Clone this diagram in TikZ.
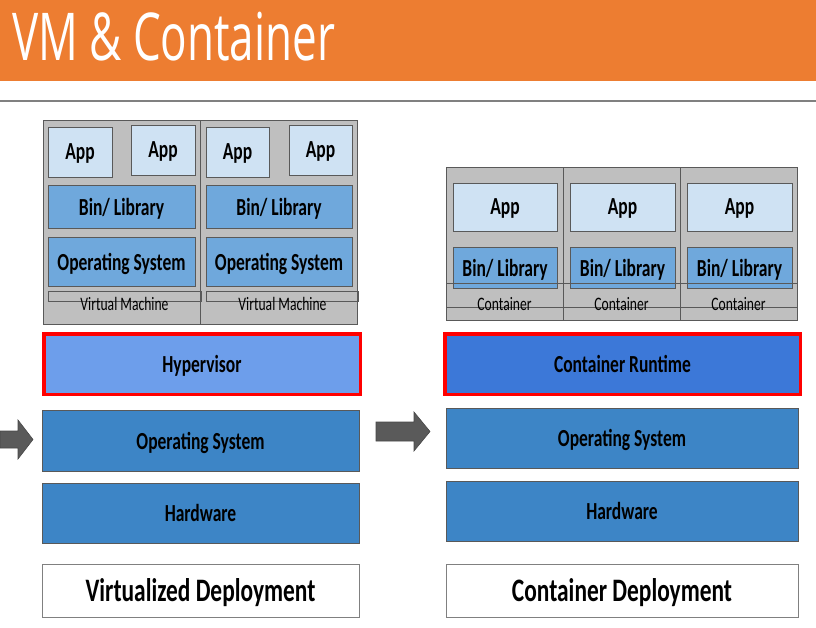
\documentclass[tikz,border=0pt]{standalone}
\usepackage{fontspec}
\setmainfont{Carlito}
\newfontfamily\titlefont{Open Sans}
\usetikzlibrary{positioning}

\definecolor{slideorange}{HTML}{ED7D31}
\definecolor{boxgray}{HTML}{BFBFBF}
\definecolor{edgegray}{HTML}{595959}
\definecolor{applight}{HTML}{CFE2F3}
\definecolor{binblue}{HTML}{6FA8DC}
\definecolor{layerblue}{HTML}{3D85C6}
\definecolor{hyperblue}{HTML}{6D9EEB}
\definecolor{runblue}{HTML}{3C78D8}
\definecolor{arrowgray}{HTML}{5A5A5A}

\newcommand{\tall}[1]{\scalebox{1}[1.4]{#1}}

\tikzstyle{vmbox} = [draw=edgegray, fill=boxgray, minimum width=158pt, minimum height=204pt, inner sep=0pt]
\tikzstyle{ctbox} = [draw=edgegray, fill=boxgray, minimum width=117pt, minimum height=153pt, inner sep=0pt]
\tikzstyle{appS} = [draw=edgegray, fill=applight, text centered, text depth=0pt, inner sep=0pt, font=\fontsize{17.5}{20}\selectfont\bfseries]
\tikzstyle{binS} = [draw=edgegray, fill=binblue, text centered, text depth=0pt, inner sep=0pt, font=\fontsize{17.5}{20}\selectfont\bfseries]
\tikzstyle{layerS} = [draw=edgegray, fill=layerblue, text centered, text depth=0pt, inner sep=0pt, font=\fontsize{17.5}{20}\selectfont\bfseries]
\tikzstyle{coreS} = [draw=red, line width=3.5pt, text centered, text depth=0pt, inner sep=0pt, minimum height=60.5pt, font=\fontsize{17.5}{20}\selectfont\bfseries]
\tikzstyle{deployS} = [draw=gray, fill=white, text centered, text depth=0pt, inner sep=0pt, minimum height=53pt, font=\fontsize{23.4}{26}\selectfont\bfseries]
\tikzstyle{stripS} = [draw=edgegray, inner sep=0pt]
\tikzstyle{labelS} = [inner sep=0pt, text depth=0pt, font=\fontsize{13.6}{15}\selectfont]
\tikzstyle{bigarrow} = [fill=arrowgray, draw=edgegray!80!black, line width=0.6pt]

\begin{document}
\begin{tikzpicture}[x=1pt, y=-1pt]
    \useasboundingbox (0,0) rectangle (816,628);

    % title bar
    \fill [slideorange] (0,0) rectangle (816,81);
    \node [anchor=base west, inner sep=0pt, text=white, font=\titlefont\fontsize{44}{50}\selectfont] (title) at (12,61) {\scalebox{1}[1.5]{VM \& Container}};
    \draw [gray, line width=1.2pt] (0,101) -- (816,101);

    % virtualized deployment
    \node [vmbox] (vm1) at (122,222) {};
    \node [vmbox, right of=vm1, node distance=157pt, minimum width=157pt] (vm2) {};
    \node [appS, minimum width=64pt, minimum height=50pt] (app1) at (80,152) {\tall{App}};
    \node [appS, minimum width=64pt, minimum height=50pt] (app2) at (163,150) {\tall{App}};
    \node [appS, minimum width=63pt, minimum height=50pt] (app3) at (237.5,152) {\tall{App}};
    \node [appS, minimum width=63pt, minimum height=50pt] (app4) at (320.5,150) {\tall{App}};
    \node [binS, minimum width=147pt, minimum height=43pt] (bin1) at (121.5,206.5) {\tall{Bin/ Library}};
    \node [binS, minimum width=146pt, minimum height=43pt] (bin2) at (279,206.5) {\tall{Bin/ Library}};
    \node [binS, below of=bin1, node distance=55pt, minimum width=147pt, minimum height=49pt] (gos1) {\tall{Operating System}};
    \node [binS, below of=bin2, node distance=55pt, minimum width=146pt, minimum height=49pt] (gos2) {\tall{Operating System}};
    \node [stripS, minimum width=153pt, minimum height=10pt] (vstrip1) at (124.5,296) {};
    \node [stripS, minimum width=152pt, minimum height=10pt] (vstrip2) at (282,296) {};
    \node [labelS] (vmlab1) at (124.5,304) {\tall{Virtual Machine}};
    \node [labelS] (vmlab2) at (282.5,304) {\tall{Virtual Machine}};

    \node [coreS, fill=hyperblue, minimum width=316.5pt] (hyper) at (202,364) {\tall{Hypervisor}};
    \node [layerS, minimum width=317pt, minimum height=61pt] (osL) at (200.5,440.5) {\tall{Operating System}};
    \node [layerS, below of=osL, node distance=72.5pt, minimum width=317pt, minimum height=60pt] (hwL) {\tall{Hardware}};
    \node [deployS, below of=hwL, node distance=77.5pt, minimum width=317pt] (depL) {\tall{Virtualized Deployment}};

    % container deployment
    \node [ctbox] (ct1) at (504.5,243.5) {};
    \node [ctbox, right of=ct1, node distance=117pt] (ct2) {};
    \node [ctbox, right of=ct2, node distance=117pt] (ct3) {};
    \node [appS, minimum width=104pt, minimum height=48pt] (capp1) at (505,207) {\tall{App}};
    \node [appS, minimum width=105pt, minimum height=48pt] (capp2) at (622.5,207) {\tall{App}};
    \node [appS, minimum width=105pt, minimum height=48pt] (capp3) at (739.5,207) {\tall{App}};
    \node [binS, below of=capp1, node distance=60.5pt, minimum width=104pt, minimum height=41pt] (cbin1) {\tall{Bin/ Library}};
    \node [binS, below of=capp2, node distance=60.5pt, minimum width=105pt, minimum height=41pt] (cbin2) {\tall{Bin/ Library}};
    \node [binS, below of=capp3, node distance=60.5pt, minimum width=105pt, minimum height=41pt] (cbin3) {\tall{Bin/ Library}};
    \node [stripS, minimum width=117pt, minimum height=24pt] (cstrip1) at (504.5,295) {};
    \node [stripS, minimum width=117pt, minimum height=24pt] (cstrip2) at (621.5,295) {};
    \node [stripS, minimum width=117pt, minimum height=24pt] (cstrip3) at (738.5,295) {};
    \node [labelS] (ctlab1) at (504.5,303.5) {\tall{Container}};
    \node [labelS] (ctlab2) at (621.5,303.5) {\tall{Container}};
    \node [labelS] (ctlab3) at (738.5,303.5) {\tall{Container}};

    \node [coreS, fill=runblue, minimum width=355.5pt] (runtime) at (622.5,364) {\tall{Container Runtime}};
    \node [layerS, minimum width=352pt, minimum height=60pt] (osR) at (622,438) {\tall{Operating System}};
    \node [layerS, below of=osR, node distance=73pt, minimum width=352pt, minimum height=60pt] (hwR) {\tall{Hardware}};
    \node [deployS, below of=hwR, node distance=79.5pt, minimum width=352pt] (depR) {\tall{Container Deployment}};

    % block arrows
    \filldraw [bigarrow] (0,431) -- (18,431) -- (18,420) -- (33,439.5) -- (18,459) -- (18,448) -- (0,448) -- cycle;
    \filldraw [bigarrow] (376,422) -- (414,422) -- (414,412) -- (430,431.5) -- (414,451) -- (414,441) -- (376,441) -- cycle;
\end{tikzpicture}
\end{document}
